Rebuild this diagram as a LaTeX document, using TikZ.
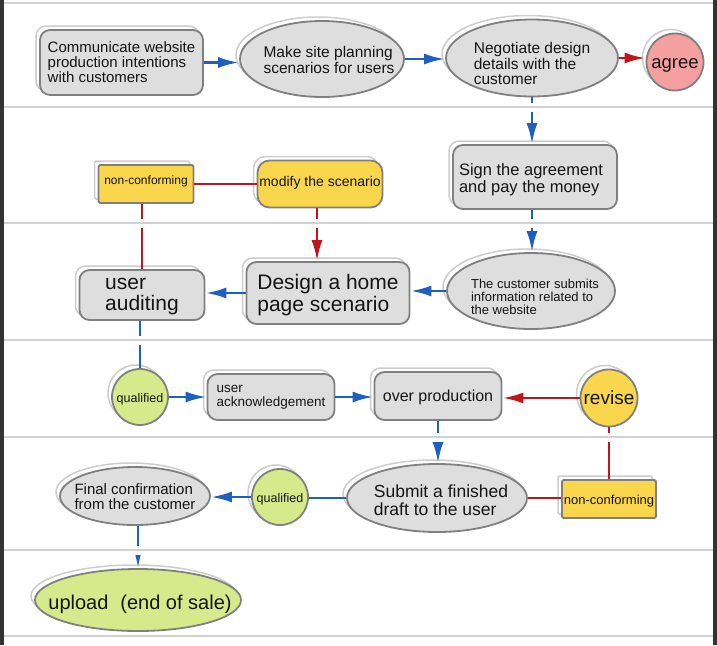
\documentclass[tikz,border=0pt]{standalone}
\usepackage{fontspec}
\setmainfont{Liberation Sans}
\usetikzlibrary{shapes.geometric,arrows.meta}
\definecolor{lanec}{HTML}{D2D2D2}
\definecolor{nodeg}{HTML}{DEDEDE}
\definecolor{edgeg}{HTML}{808080}
\definecolor{shad}{HTML}{CDCDCD}
\definecolor{ylw}{HTML}{FAD64C}
\definecolor{grn}{HTML}{D6EA8C}
\definecolor{pnk}{HTML}{F4A0A0}
\definecolor{bl}{HTML}{1F5FBF}
\definecolor{rd}{HTML}{C0161B}
\definecolor{frame}{HTML}{333333}
% #1 raise, #2 x offset, #3 size, #4 skip, #5 lines
\newcommand{\txl}[5]{\makebox[0pt]{\hspace*{#2}\hspace*{#2}\raisebox{#1}[0pt][0pt]{\fontsize{#3}{#4}\selectfont\begin{tabular}[c]{@{}l@{}}#5\end{tabular}}}}
\tikzset{
  nd/.style={draw=edgeg, line width=1.8pt, fill=nodeg, inner sep=0pt, text=black!92,
    preaction={draw=shad, line width=1.5pt, fill=white, transform canvas={shift={(-4pt,4pt)}}}},
  rbox/.style={nd, rectangle, rounded corners=10pt},
  ell/.style={nd, ellipse},
  circ/.style={nd, circle},
  ybox/.style={nd, rectangle, rounded corners=1.5pt, fill=ylw},
  barr/.style={bl, line width=2.8pt, -{Latex[length=21pt,width=11pt]}},
  bline/.style={bl, line width=2.8pt},
  rarr/.style={rd, line width=2.8pt, -{Latex[length=21pt,width=11pt]}},
  rline/.style={rd, line width=2.8pt},
  laneln/.style={lanec, line width=1.5pt},
  gap/.style={white, line width=9pt},
}
\begin{document}
\begin{tikzpicture}[x=1pt,y=-1pt]
\useasboundingbox (0,0) rectangle (717,645);
\fill[white] (0,0) rectangle (717,645);
% ---- nodes
\node[rbox, minimum width=163pt, minimum height=65pt] (c1) at (121.5,62.5) {\txl{-5.5pt}{0pt}{15}{14.5}{Communicate website\\production intentions\\with customers}};
\node[ell, minimum width=164pt, minimum height=76pt] (mk) at (322,59) {\txl{-7pt}{7pt}{15.5}{15.5}{Make site planning\\scenarios for users}};
\node[ell, minimum width=172pt, minimum height=77pt] (ng) at (532,58) {\txl{-11.5pt}{0pt}{15.5}{15.5}{Negotiate design\\details with the\\customer}};
\node[circ, fill=pnk, minimum size=57pt] (ag) at (675,62) {\txl{-7pt}{0pt}{18.5}{18}{agree}};
\node[rbox, minimum width=164pt, minimum height=64pt] (sg) at (535,177) {\txl{-8pt}{-4pt}{16.5}{16}{Sign the agreement\\and pay the money}};
\node[ybox, minimum width=95pt, minimum height=38pt] (nc1) at (146,184) {\txl{-1pt}{0pt}{12}{12}{non-conforming}};
\node[rbox, fill=ylw, rounded corners=12pt, minimum width=125pt, minimum height=47pt] (md) at (320,184) {\txl{-3pt}{0pt}{14}{14}{modify the scenario}};
\node[rbox, minimum width=125pt, minimum height=50pt] (ua) at (142,295) {\txl{-6.5pt}{0pt}{21}{20}{user\\auditing}};
\node[rbox, minimum width=163pt, minimum height=62pt] (ds) at (328,293) {\txl{-8pt}{0pt}{21}{20}{Design a home\\page scenario}};
\node[ell, minimum width=168pt, minimum height=76pt] (cs) at (531,291) {\txl{-10.5pt}{4pt}{13}{12}{The customer submits\\information related to\\the website}};
\node[circ, fill=grn, minimum size=56pt] (q1) at (140,397) {\txl{-6pt}{0pt}{12.5}{12}{qualified}};
\node[rbox, minimum width=127pt, minimum height=46pt] (ak) at (271,397) {\txl{-3.5pt}{0pt}{13.5}{13}{user\\acknowledgement}};
\node[rbox, minimum width=127pt, minimum height=48pt] (op) at (438,396) {\txl{-6pt}{0pt}{16}{16}{over production}};
\node[circ, fill=ylw, minimum size=57pt] (rv) at (609,398) {\txl{-7pt}{0pt}{19}{19}{revise}};
\node[ell, minimum width=150pt, minimum height=58pt] (fn) at (135,496) {\txl{-6.5pt}{0pt}{15}{14}{Final confirmation\\from the customer}};
\node[circ, fill=grn, minimum size=56pt] (q2) at (280,497) {\txl{-6pt}{0pt}{12.5}{12}{qualified}};
\node[ell, minimum width=180pt, minimum height=68pt] (sb) at (437,498) {\txl{-9pt}{4pt}{17.5}{16}{Submit a finished\\draft to the user}};
\node[ybox, minimum width=94pt, minimum height=38pt] (nc2) at (609,499) {\txl{-6pt}{0pt}{13}{13}{non-conforming}};
\node[ell, fill=grn, minimum width=206pt, minimum height=62pt] (up) at (138,600) {\txl{-10pt}{2pt}{20}{20}{upload\hspace{0.6em}(end of sale)}};
% ---- connectors
\draw[barr] (c1.east) -- (c1.east -| mk.west);
\draw[barr] (mk.east) -- (mk.east -| ng.west);
\draw[rarr] (ng.east) -- (ng.east -| ag.west);
\draw[barr] (ng.south) -- (ng.south |- sg.north);
\draw[barr] (sg.south -| ng.south) -- (ng.south |- cs.north);
\draw[barr] (cs.west) -- (cs.west -| ds.east);
\draw[barr] (ds.west) -- (ds.west -| ua.east);
\draw[rarr] (md.south -| 317,0) -- (ds.north -| 317,0);
\draw[rline] (nc1.east) -- (nc1.east -| md.west);
\draw[rline] (nc1.south -| ua.north) -- (ua.north);
\draw[bline] (ua.south -| q1.north) -- (q1.north);
\draw[barr] (q1.east) -- (q1.east -| ak.west);
\draw[barr] (ak.east) -- (ak.east -| op.west);
\draw[rarr] (rv.west) -- (rv.west -| op.east);
\draw[rline] (rv.south) -- (rv.south |- nc2.north);
\draw[barr] (op.south) -- (op.south |- sb.north);
\draw[bline] (sb.west) -- (sb.west -| q2.east);
\draw[barr] (q2.west) -- (q2.west -| fn.east);
\draw[rline] (sb.east) -- (sb.east -| nc2.west);
\draw[barr] (fn.south -| up.north) -- (up.north);
% ---- lanes
\foreach \yy in {107,223,340,437,550} \draw[gap] (3.5,\yy) -- (712.5,\yy);
\foreach \yy in {3,107,223,340,437,550,636} \draw[laneln] (3.5,\yy) -- (712.5,\yy);
\fill[frame] (0,0) rectangle (3.5,645);
\fill[frame] (712.5,0) rectangle (717,645);
\end{tikzpicture}
\end{document}
